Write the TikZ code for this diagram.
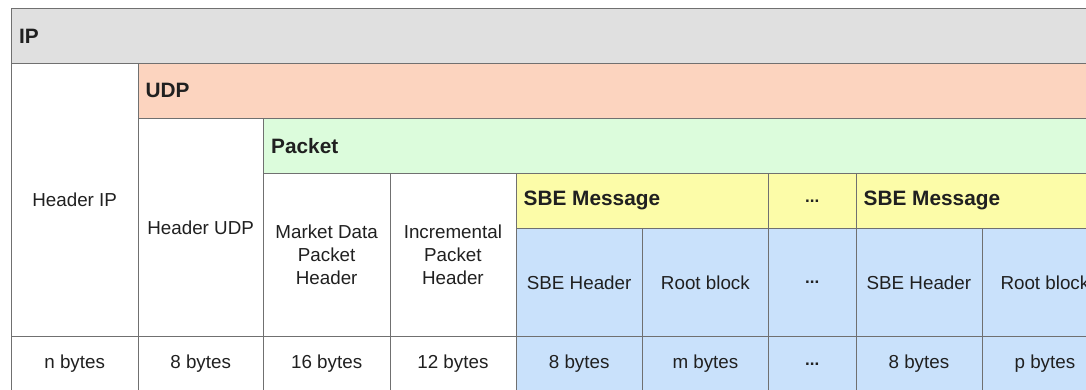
\documentclass[tikz,border=0pt]{standalone}
\usepackage{fontspec}
\setmainfont{Liberation Sans}
\usepackage{xcolor}
\usetikzlibrary{positioning}

\definecolor{ipgray}{HTML}{E0E0E0}
\definecolor{udpcol}{HTML}{FCD4BF}
\definecolor{pktcol}{HTML}{DCFCDC}
\definecolor{msgcol}{HTML}{FCFCA8}
\definecolor{sbecol}{HTML}{C9E1FB}
\definecolor{linecol}{HTML}{707070}
\definecolor{txtcol}{HTML}{202020}

\begin{document}
\begin{tikzpicture}[
  x=1pt, y=-1pt,
  cell/.style={draw=linecol, line width=0.8pt, inner sep=0pt, anchor=north west, align=center,
    text=txtcol, font=\fontsize{18.8}{23}\selectfont},
  head/.style={inner sep=0pt, anchor=west, text=txtcol, font=\fontsize{20.8}{24}\selectfont\bfseries},
  dots/.style={cell, font=\fontsize{17}{23}\selectfont\bfseries},
]
\useasboundingbox (0,0) rectangle (1086,389);
\clip (0,0) rectangle (1086,389);
\fill[white] (0,0) rectangle (1086,389);

% layer headers
\node[cell, fill=ipgray, minimum width=1100pt, minimum height=55pt] (ip) at (11,8) {};
\node[head, right=8pt of ip.west] (iplbl) {IP};
\node[cell, fill=udpcol, minimum width=975pt, minimum height=55pt] (udp) at (137.5,63) {};
\node[head, right=8pt of udp.west] (udplbl) {UDP};
\node[cell, fill=pktcol, minimum width=850pt, minimum height=55pt] (pkt) at (263,118) {};
\node[head, right=8pt of pkt.west] (pktlbl) {Packet};

% fixed headers
\node[cell, minimum width=126.5pt, minimum height=273pt] (hip) at (11,63) {Header IP};
\node[cell, minimum width=125.5pt, minimum height=218pt] (hudp) at (137.5,118) {Header UDP};
\node[cell, minimum width=126.5pt, minimum height=163pt] (mdph) at (263,173) {Market Data\\Packet\\Header};
\node[cell, minimum width=126pt, minimum height=163pt] (iph) at (389.5,173) {Incremental\\Packet\\Header};

% SBE messages
\node[cell, fill=msgcol, minimum width=252.5pt, minimum height=55pt] (msga) at (515.5,173) {};
\node[head, right=8pt of msga.west] (msgalbl) {SBE Message};
\node[dots, fill=msgcol, minimum width=87.5pt, minimum height=55pt] (msgdots) at (768,173) {...};
\node[cell, fill=msgcol, minimum width=252pt, minimum height=55pt] (msgb) at (855.5,173) {};
\node[head, right=8pt of msgb.west] (msgblbl) {SBE Message};

\node[cell, fill=sbecol, minimum width=126.5pt, minimum height=108pt] (sbha) at (515.5,228) {SBE Header};
\node[cell, fill=sbecol, minimum width=126pt, minimum height=108pt] (roota) at (642,228) {Root block};
\node[dots, fill=sbecol, minimum width=87.5pt, minimum height=108pt] (sbdots) at (768,228) {...};
\node[cell, fill=sbecol, minimum width=126pt, minimum height=108pt] (sbhb) at (855.5,228) {SBE Header};
\node[cell, fill=sbecol, minimum width=126pt, minimum height=108pt] (rootb) at (981.5,228) {Root block};

% sizes
\foreach \i/\x/\w/\f/\t in {1/11/126.5/white/n bytes, 2/137.5/125.5/white/8 bytes,
    3/263/126.5/white/16 bytes, 4/389.5/126/white/12 bytes, 5/515.5/126.5/sbecol/8 bytes,
    6/642/126/sbecol/m bytes, 8/855.5/126/sbecol/8 bytes, 9/981.5/126/sbecol/p bytes}
  \node[cell, fill=\f, minimum width=\w pt, minimum height=55pt] (size\i) at (\x,336) {\t};
\node[dots, fill=sbecol, minimum width=87.5pt, minimum height=55pt] (size7) at (768,336) {...};
\end{tikzpicture}
\end{document}
